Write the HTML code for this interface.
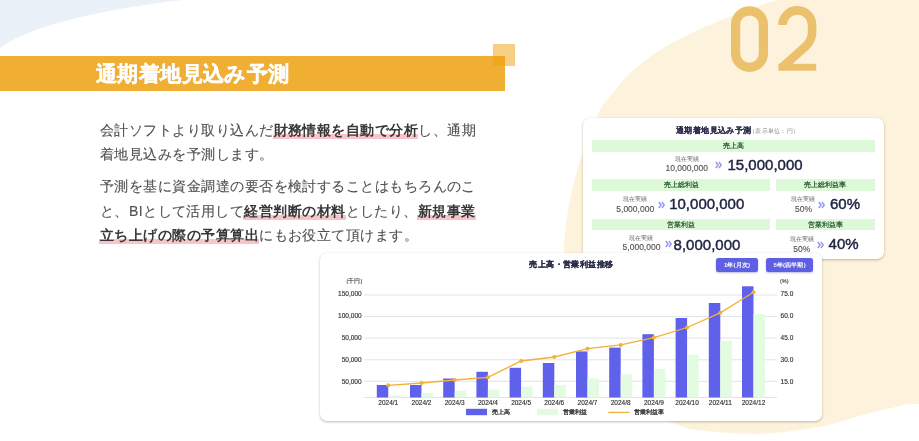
<!DOCTYPE html>
<html lang="ja"><head><meta charset="utf-8">
<style>
*{margin:0;padding:0;box-sizing:border-box}
html{background:#fff}
html,body{width:919px;height:441px;overflow:hidden}
body{position:relative;font-family:"Liberation Sans",sans-serif;will-change:transform}
.abs{position:absolute}
#bg{position:absolute;left:0;top:0}
.band{position:absolute;left:0;top:56px;width:505px;height:35px;background:#F0AE33}
.sq{position:absolute;left:493px;top:44px;width:22px;height:22px;background:rgba(238,160,10,0.5)}
.h1{position:absolute;left:96px;top:61px;font-size:21px;font-weight:bold;color:#fff;-webkit-text-stroke:0.4px #fff;white-space:nowrap;line-height:26px;letter-spacing:0.4px}
.para{position:absolute;left:100px;font-size:14px;color:#505050;-webkit-text-stroke:0.12px #505050;white-space:nowrap;line-height:24px;letter-spacing:0.46px}
.para b{color:#383838;font-weight:bold;position:relative;-webkit-text-stroke:0}
.para b::before{content:"";position:absolute;left:-1px;right:0;top:12px;height:5px;background:#F8C4C8;z-index:-1}
.card{position:absolute;background:#fff;border-radius:7px;box-shadow:0 1px 2.5px rgba(70,50,20,0.32),0 0 1px rgba(0,0,0,0.08)}
.g{position:absolute;background:#DDF9D9;color:#2F5F35;font-size:7px;font-weight:bold;text-align:center;line-height:11.5px;white-space:nowrap}
.lbl{position:absolute;font-size:5.5px;color:#666;white-space:nowrap;line-height:6px;text-align:center}
.cur{position:absolute;font-size:8.5px;color:#505050;-webkit-text-stroke:0.12px #505050;white-space:nowrap;line-height:9px}
.arr{position:absolute;line-height:0}
.arr svg{display:block}
.big{position:absolute;font-size:15px;color:#1E2242;white-space:nowrap;line-height:15px;-webkit-text-stroke:0.45px #1E2242}
.ax{position:absolute;font-size:6.5px;color:#333;-webkit-text-stroke:0.15px #333;white-space:nowrap;line-height:7px}
.btn{position:absolute;background:#5E5FE3;color:#fff;font-size:6px;font-weight:bold;letter-spacing:0.15px;text-align:center;line-height:14.4px;border-radius:2.5px;white-space:nowrap;box-shadow:0 1px 2px rgba(40,40,120,0.3)}
</style></head><body>
<svg id="bg" width="919" height="441" viewBox="0 0 919 441">
  <path d="M0 0 L183 0 C110 8 30 25 0 48 Z" fill="#EBF1F9"/>
  <path id="cream" d="M778 0 C790.0 -2.4 799.7 -6.3 830 -8 C860.3 -9.7 933.3 -61.3 960 -10 C986.7 41.3 992.7 232.8 990 300 C987.3 367.2 958.5 375.5 944 393 C929.5 410.5 916.7 401.3 903 405 C889.3 408.7 875.0 411.5 862 415 C849.0 418.5 838.0 423.0 825 425.8 C812.0 428.6 797.3 430.7 784 432 C770.7 433.3 758.0 433.8 745 433.6 C732.0 433.4 716.8 432.3 706 431 C695.2 429.7 691.0 430.1 680 425.8 C669.0 421.5 653.3 415.1 640 405 C626.7 394.9 611.2 381.7 600 365 C588.8 348.3 579.0 324.0 573 305 C567.0 286.0 563.8 271.5 564 251 C564.2 230.5 568.5 204.3 574 182 C579.5 159.7 590.7 131.7 597 117 C603.3 102.3 605.5 102.2 612 94 C618.5 85.8 626.0 76.5 636 68 C646.0 59.5 658.2 50.8 672 43 C685.8 35.2 704.7 27.1 719 21 C733.3 14.9 748.2 10.0 758 6.5 C767.8 3.0 766.0 2.4 778 0 Z" fill="#FDF2DB"/>
  <g fill="none" stroke="#EBC16E" stroke-width="8.6">
    <path d="M735.6 24.5 A13.9 13.7 0 0 1 763.4 24.5 L763.4 53.6 A13.9 13.7 0 0 1 735.6 53.6 Z" stroke-width="9.2"/>
    <path d="M782.5 24 L782.5 25 A14.8 14.8 0 0 1 812.1 25.3 L812.1 32 C812.1 38 810 42 806 46 L782.5 67" stroke-linejoin="miter"/>
  </g>
  <rect x="778.4" y="63.8" width="37.8" height="7" fill="#EBC16E"/>
</svg>

<div class="band"></div>
<div class="sq"></div>
<div class="h1">通期着地見込み予測</div>

<div class="para" style="top:118px">会計ソフトより取り込んだ<b>財務情報を自動で分析</b>し、通期</div>
<div class="para" style="top:142px">着地見込みを予測します。</div>
<div class="para" style="top:174px">予測を基に資金調達の要否を検討することはもちろんのこ</div>
<div class="para" style="top:199px">と、BIとして活用して<b>経営判断の材料</b>としたり、<b>新規事業</b></div>
<div class="para" style="top:223px"><b>立ち上げの際の予算算出</b>にもお役立て頂けます。</div>

<!-- forecast card -->
<div class="card" style="left:583px;top:118px;width:300.5px;height:140.5px"></div>
<div class="abs" style="left:676px;top:125.5px;font-size:8px;letter-spacing:0.4px;font-weight:bold;color:#2A2D4A;-webkit-text-stroke:0.15px #2A2D4A;white-space:nowrap;line-height:10px">通期着地見込み予測</div>
<div class="abs" style="left:749px;top:126.5px;font-size:5.5px;letter-spacing:0.26px;color:#888;white-space:nowrap;line-height:8px">（表示単位：円）</div>
<div class="g" style="left:592px;top:139.6px;width:283px;height:12px">売上高</div>
<div class="g" style="left:592px;top:179px;width:178px;height:12px">売上総利益</div>
<div class="g" style="left:776px;top:179px;width:98.5px;height:12px">売上総利益率</div>
<div class="g" style="left:592px;top:219.2px;width:178px;height:11.1px">営業利益</div>
<div class="g" style="left:776px;top:219.2px;width:98.5px;height:11.1px">営業利益率</div>

<div class="lbl" style="left:663px;width:48px;top:156px">現在実績</div>
<div class="cur" style="left:665.5px;top:164px">10,000,000</div>
<div class="arr" style="left:715px;top:161px"><svg width="7" height="8" viewBox="0 0 7 8"><path d="M0.8 0.9 L3.1 4 L0.8 7.1 M3.9 0.9 L6.2 4 L3.9 7.1" fill="none" stroke="#9A9DF0" stroke-width="1.6"/></svg></div>
<div class="big" style="left:727.5px;top:156.6px">15,000,000</div>

<div class="lbl" style="left:611px;width:48px;top:196px">現在実績</div>
<div class="cur" style="left:616.3px;top:204.5px">5,000,000</div>
<div class="arr" style="left:657.7px;top:201px"><svg width="7" height="8" viewBox="0 0 7 8"><path d="M0.8 0.9 L3.1 4 L0.8 7.1 M3.9 0.9 L6.2 4 L3.9 7.1" fill="none" stroke="#9A9DF0" stroke-width="1.6"/></svg></div>
<div class="big" style="left:669.2px;top:195.5px">10,000,000</div>

<div class="lbl" style="left:779px;width:48px;top:196px">現在実績</div>
<div class="cur" style="left:795px;top:205px">50%</div>
<div class="arr" style="left:818px;top:201px"><svg width="7" height="8" viewBox="0 0 7 8"><path d="M0.8 0.9 L3.1 4 L0.8 7.1 M3.9 0.9 L6.2 4 L3.9 7.1" fill="none" stroke="#9A9DF0" stroke-width="1.6"/></svg></div>
<div class="big" style="left:830px;top:196.2px">60%</div>

<div class="lbl" style="left:617px;width:48px;top:235px">現在実績</div>
<div class="cur" style="left:622.6px;top:242.6px">5,000,000</div>
<div class="arr" style="left:665px;top:240.3px"><svg width="7" height="8" viewBox="0 0 7 8"><path d="M0.8 0.9 L3.1 4 L0.8 7.1 M3.9 0.9 L6.2 4 L3.9 7.1" fill="none" stroke="#9A9DF0" stroke-width="1.6"/></svg></div>
<div class="big" style="left:673.6px;top:236.5px">8,000,000</div>

<div class="lbl" style="left:778px;width:48px;top:235.5px">現在実績</div>
<div class="cur" style="left:793.3px;top:244.5px">50%</div>
<div class="arr" style="left:817.3px;top:240.5px"><svg width="7" height="8" viewBox="0 0 7 8"><path d="M0.8 0.9 L3.1 4 L0.8 7.1 M3.9 0.9 L6.2 4 L3.9 7.1" fill="none" stroke="#9A9DF0" stroke-width="1.6"/></svg></div>
<div class="big" style="left:828.6px;top:235.5px">40%</div>

<!-- chart card -->
<div class="card" style="left:320px;top:252.5px;width:502px;height:168px"></div>
<div class="abs" style="left:529.3px;top:259.3px;font-size:8px;letter-spacing:0.43px;font-weight:bold;color:#2A2D4A;-webkit-text-stroke:0.2px #2A2D4A;white-space:nowrap;line-height:11px">売上高・営業利益推移</div>
<div class="btn" style="left:716px;top:257.6px;width:42px;height:14.4px">1年(月次)</div>
<div class="btn" style="left:766.3px;top:257.6px;width:46.6px;height:14.4px">5年(四半期)</div>

<svg class="abs" style="left:0;top:0" width="919" height="441" viewBox="0 0 919 441" id="chart">
  <g stroke="#E3E3E3" stroke-width="1">
    <line x1="364" y1="295" x2="777" y2="295"/>
    <line x1="364" y1="316.6" x2="777" y2="316.6"/>
    <line x1="364" y1="338.1" x2="777" y2="338.1"/>
    <line x1="364" y1="359.8" x2="777" y2="359.8"/>
    <line x1="364" y1="381.3" x2="777" y2="381.3"/>
    <line x1="364" y1="397.5" x2="777" y2="397.5"/>
  </g>
  <g id="bars"><rect x="376.8" y="385" width="11.5" height="12.5" fill="#6061EB"/><rect x="388.3" y="395.3" width="11.5" height="2.2" fill="#E2FBE1"/><rect x="410.0" y="385" width="11.5" height="12.5" fill="#6061EB"/><rect x="421.5" y="393" width="11.5" height="4.5" fill="#E2FBE1"/><rect x="443.2" y="378.5" width="11.5" height="19.0" fill="#6061EB"/><rect x="454.7" y="390.7" width="11.5" height="6.8" fill="#E2FBE1"/><rect x="476.4" y="371.8" width="11.5" height="25.7" fill="#6061EB"/><rect x="487.9" y="389.6" width="11.5" height="7.9" fill="#E2FBE1"/><rect x="509.6" y="367.8" width="11.5" height="29.7" fill="#6061EB"/><rect x="521.1" y="386.7" width="11.5" height="10.8" fill="#E2FBE1"/><rect x="542.8" y="363" width="11.5" height="34.5" fill="#6061EB"/><rect x="554.3" y="385" width="11.5" height="12.5" fill="#E2FBE1"/><rect x="576.0" y="351.4" width="11.5" height="46.1" fill="#6061EB"/><rect x="587.5" y="378.4" width="11.5" height="19.1" fill="#E2FBE1"/><rect x="609.2" y="347.6" width="11.5" height="49.9" fill="#6061EB"/><rect x="620.7" y="374.4" width="11.5" height="23.1" fill="#E2FBE1"/><rect x="642.4" y="334.2" width="11.5" height="63.3" fill="#6061EB"/><rect x="653.9" y="369" width="11.5" height="28.5" fill="#E2FBE1"/><rect x="675.6" y="318" width="11.5" height="79.5" fill="#6061EB"/><rect x="687.1" y="354.7" width="11.5" height="42.8" fill="#E2FBE1"/><rect x="708.8" y="303" width="11.5" height="94.5" fill="#6061EB"/><rect x="720.3" y="340.8" width="11.5" height="56.7" fill="#E2FBE1"/><rect x="742.0" y="286.3" width="11.5" height="111.2" fill="#6061EB"/><rect x="753.5" y="314.2" width="11.5" height="83.3" fill="#E2FBE1"/><polyline points="388.3,385.3 421.5,383 454.7,380 487.9,377.3 521.1,361 554.3,357 587.5,348.7 620.7,344.9 653.9,337.6 687.1,327.5 720.3,312.8 753.5,292.3" fill="none" stroke="#F2B134" stroke-width="1.3"/><circle cx="388.3" cy="385.3" r="2" fill="#F2B134"/><circle cx="421.5" cy="383" r="2" fill="#F2B134"/><circle cx="454.7" cy="380" r="2" fill="#F2B134"/><circle cx="487.9" cy="377.3" r="2" fill="#F2B134"/><circle cx="521.1" cy="361" r="2" fill="#F2B134"/><circle cx="554.3" cy="357" r="2" fill="#F2B134"/><circle cx="587.5" cy="348.7" r="2" fill="#F2B134"/><circle cx="620.7" cy="344.9" r="2" fill="#F2B134"/><circle cx="653.9" cy="337.6" r="2" fill="#F2B134"/><circle cx="687.1" cy="327.5" r="2" fill="#F2B134"/><circle cx="720.3" cy="312.8" r="2" fill="#F2B134"/><circle cx="753.5" cy="292.3" r="2" fill="#F2B134"/><rect x="466" y="408.8" width="21" height="6.4" fill="#6061EB"/><rect x="537" y="408.8" width="21" height="6.4" fill="#E2FBE1"/><line x1="608.3" y1="412.4" x2="629.4" y2="412.4" stroke="#F2B134" stroke-width="1.3"/></g>
</svg>
<div id="labels"><div class="ax" style="right:557.4px;top:290.1px">150,000</div><div class="ax" style="right:557.4px;top:312.2px">100,000</div><div class="ax" style="right:557.4px;top:334.0px">50,000</div><div class="ax" style="right:557.4px;top:356.0px">50,000</div><div class="ax" style="right:557.4px;top:377.5px">50,000</div><div class="ax" style="left:346.6px;top:277.5px;font-size:5.5px;color:#555">(千円)</div><div class="ax" style="left:780.6px;top:289.7px">75.0</div><div class="ax" style="left:780.6px;top:311.5px">60.0</div><div class="ax" style="left:780.6px;top:333.5px">45.0</div><div class="ax" style="left:780.6px;top:355.5px">30.0</div><div class="ax" style="left:780.6px;top:377.5px">15.0</div><div class="ax" style="left:780px;top:277.5px;font-size:5.5px;color:#555">(%)</div><div class="ax" style="left:368.3px;width:40px;text-align:center;top:399.3px">2024/1</div><div class="ax" style="left:401.5px;width:40px;text-align:center;top:399.3px">2024/2</div><div class="ax" style="left:434.7px;width:40px;text-align:center;top:399.3px">2024/3</div><div class="ax" style="left:467.9px;width:40px;text-align:center;top:399.3px">2024/4</div><div class="ax" style="left:501.1px;width:40px;text-align:center;top:399.3px">2024/5</div><div class="ax" style="left:534.3px;width:40px;text-align:center;top:399.3px">2024/6</div><div class="ax" style="left:567.5px;width:40px;text-align:center;top:399.3px">2024/7</div><div class="ax" style="left:600.7px;width:40px;text-align:center;top:399.3px">2024/8</div><div class="ax" style="left:633.9px;width:40px;text-align:center;top:399.3px">2024/9</div><div class="ax" style="left:667.1px;width:40px;text-align:center;top:399.3px">2024/10</div><div class="ax" style="left:700.3px;width:40px;text-align:center;top:399.3px">2024/11</div><div class="ax" style="left:733.5px;width:40px;text-align:center;top:399.3px">2024/12</div><div class="ax" style="left:491.8px;top:408.5px;font-size:6px;color:#333;-webkit-text-stroke:0.3px #333">売上高</div><div class="ax" style="left:562.9px;top:408.5px;font-size:6px;color:#333;-webkit-text-stroke:0.3px #333">営業利益</div><div class="ax" style="left:634.2px;top:408.5px;font-size:6px;color:#333;-webkit-text-stroke:0.3px #333">営業利益率</div></div>
</body></html>
